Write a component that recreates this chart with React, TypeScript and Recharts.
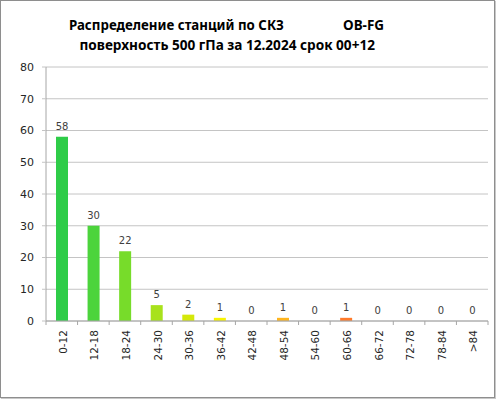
import React from "react";
import { BarChart, Bar, XAxis, YAxis, CartesianGrid, Cell, LabelList } from "recharts";

const categories = ["0-12", "12-18", "18-24", "24-30", "30-36", "36-42", "42-48", "48-54", "54-60", "60-66", "66-72", "72-78", "78-84", ">84"];
const counts = [58, 30, 22, 5, 2, 1, 0, 1, 0, 1, 0, 0, 0, 0];
const barColors = ["#2ECC48", "#4CD43C", "#77DC2A", "#A8E21C", "#D4E80A", "#F8F400", "#FFD800", "#FFB51E", "#FF9A20", "#FF7A2A", "#FF5A2A", "#FF3A2A", "#F02020", "#D01010"];
const yTicks = [0, 10, 20, 30, 40, 50, 60, 70, 80];
const titleLine1 = "Распределение станций по СКЗ";
const titleTag = "OB-FG";
const titleLine2 = "поверхность 500 гПа за 12.2024 срок 00+12";

const W = 496;
const H = 399;
const M = { top: 67, right: 8, bottom: 0, left: 0 };
const Y_W = 46;
const X_H = 78;
const BAND = (W - M.left - M.right - Y_W) / categories.length;

const data = categories.map((c, i) => ({ name: c, value: counts[i] }));

const FONT = "'DejaVu Sans', Verdana, sans-serif";

const XTick = (props: any) => {
  const { x, y, payload, index } = props;
  const half = BAND / 2;
  return (
    <g>
      <line x1={x - half} x2={x - half} y1={y} y2={y + 4} stroke="#a6a6a6" strokeWidth={1} />
      {index === categories.length - 1 && (
        <line x1={x + half} x2={x + half} y1={y} y2={y + 4} stroke="#a6a6a6" strokeWidth={1} />
      )}
      <text
        x={x + 1}
        y={y + 9}
        transform={`rotate(-90, ${x + 1}, ${y + 9})`}
        textAnchor="end"
        dominantBaseline="central"
        fontSize={10.5}
        fontFamily={FONT}
        fill="#262626"
      >
        {payload.value}
      </text>
    </g>
  );
};

const ValueLabel = (props: any) => {
  const { x, y, width, value } = props;
  if (x == null || y == null) return null;
  return (
    <text
      x={Number(x) + Number(width) / 2}
      y={Number(y) - 7}
      textAnchor="middle"
      fontSize={10}
      fontFamily={FONT}
      fill="#404040"
    >
      {value}
    </text>
  );
};

export default function App() {
  return (
    <div style={{ position: "absolute", left: 0, top: 0, width: W, height: H, background: "#fff" }}>
      <div
        style={{
          position: "absolute",
          left: 0,
          top: 0,
          width: 493,
          height: 396,
          border: "1px solid #8e8e8e",
          boxShadow: "1px 1px 1px #c8c8c8",
        }}
      />
      <svg width={W} height={60} style={{ position: "absolute", left: 0, top: 0 }}>
        <g fontFamily="'Noto Sans', 'Open Sans', sans-serif" fontWeight="bold" fontSize={14} fill="#000">
          <text x={69} y={29.5} textLength={215} lengthAdjust="spacingAndGlyphs">{titleLine1}</text>
          <text x={343} y={29.5} textLength={41} lengthAdjust="spacingAndGlyphs">{titleTag}</text>
          <text x={79.5} y={49.5} textLength={295.5} lengthAdjust="spacingAndGlyphs">{titleLine2}</text>
        </g>
      </svg>
      <div style={{ position: "absolute", left: 0, top: 0 }}>
        <BarChart width={W} height={H} data={data} margin={M}>
          <CartesianGrid vertical={false} stroke="#c4c4c4" strokeWidth={1} />
          <XAxis
            dataKey="name"
            height={X_H}
            interval={0}
            tickSize={0}
            tickMargin={0}
            tickLine={false}
            axisLine={{ stroke: "#a6a6a6" }}
            tick={<XTick />}
          />
          <YAxis
            width={Y_W}
            domain={[0, 80]}
            ticks={yTicks}
            interval={0}
            tickSize={4}
            tickMargin={8}
            axisLine={{ stroke: "#a6a6a6" }}
            tickLine={{ stroke: "#c4c4c4" }}
            tick={{ fontSize: 11, fontFamily: FONT, fill: "#262626" }}
          />
          <Bar dataKey="value" barSize={12} minPointSize={0.01} isAnimationActive={false}>
            {data.map((d, i) => (
              <Cell key={d.name} fill={barColors[i]} />
            ))}
            <LabelList dataKey="value" content={<ValueLabel />} />
          </Bar>
        </BarChart>
      </div>
    </div>
  );
}
